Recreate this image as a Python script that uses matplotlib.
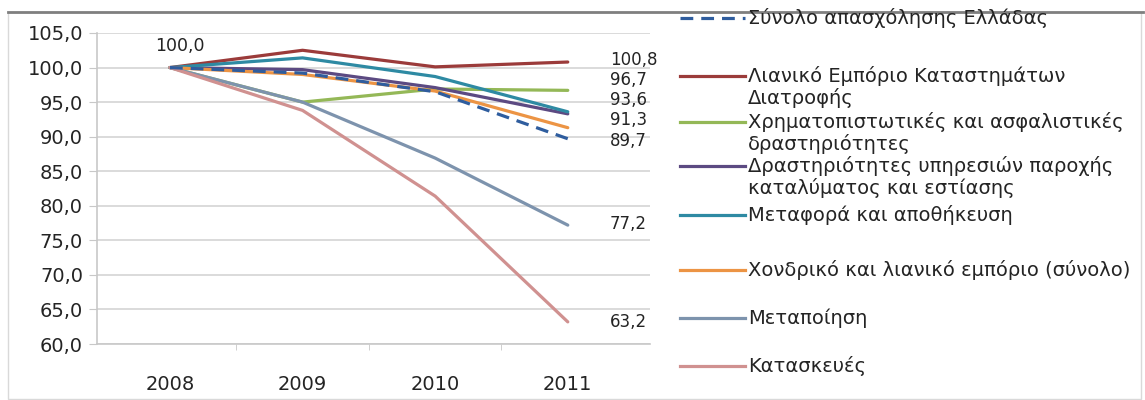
import matplotlib
matplotlib.use('Agg')
import matplotlib.pyplot as plt
from matplotlib.lines import Line2D
from matplotlib.patches import Rectangle

plt.rcParams['font.family'] = ['DejaVu Sans']

years = ['2008', '2009', '2010', '2011']

# employment index, 2008 = 100
total = [100.0, 99.2, 96.5, 89.7]
retail_food = [100.0, 102.5, 100.1, 100.8]
finance = [100.0, 95.0, 96.9, 96.7]
accommodation = [100.0, 99.7, 97.1, 93.3]
transport = [100.0, 101.4, 98.7, 93.6]
trade_total = [100.0, 99.0, 96.6, 91.3]
manufacturing = [100.0, 95.0, 86.9, 77.2]
construction = [100.0, 93.8, 81.4, 63.2]

names = ['Σύνολο απασχόλησης Ελλάδας',
         'Λιανικό Εμπόριο Καταστημάτων\nΔιατροφής',
         'Χρηματοπιστωτικές και ασφαλιστικές\nδραστηριότητες',
         'Δραστηριότητες υπηρεσιών παροχής\nκαταλύματος και εστίασης',
         'Μεταφορά και αποθήκευση',
         'Χονδρικό και λιανικό εμπόριο (σύνολο)',
         'Μεταποίηση',
         'Κατασκευές']

series = [total, retail_food, finance, accommodation, transport,
          trade_total, manufacturing, construction]
colors = ['#2f5d9e', '#9b3b3a', '#94b857', '#5c4a82', '#2e8aa3',
          '#ec9444', '#7d93ad', '#d09190']
styles = ['--', '-', '-', '-', '-', '-', '-', '-']
# vertical nudge (pixels) of the end labels so they don't collide
end_shift = [-2, 2, 10, None, 12, 8, 1, 0]

W, H = 1145, 400
fig = plt.figure(figsize=(W / 100, H / 100), dpi=100)

# outer frame of the chart
fig.patches.append(Rectangle((8 / W, 1 / H), (1141 - 8) / W, (388 - 1) / H,
                             transform=fig.transFigure, fill=False,
                             edgecolor='#d9d9d9', lw=1))
fig.lines.append(Line2D([8 / W, 1143 / W], [1 - 12 / H, 1 - 12 / H],
                        transform=fig.transFigure, color='#7f7f7f', lw=2))

ax = fig.add_axes([97 / W, 1 - 344 / H, (650 - 97) / W, (344 - 33) / H])
x = list(range(len(years)))
fs = 14
txt = '#242424'

order = [1, 2, 3, 4, 5, 6, 7, 0]
for i in order:
    ax.plot(x, series[i], linestyle=styles[i], color=colors[i], lw=2.3,
            zorder=3 + (1 if i == 0 else 0), solid_capstyle='round',
            dashes=(4, 2.5) if styles[i] == '--' else (None, None))
    if end_shift[i] is not None:
        v = series[i][-1]
        ax.annotate(f'{v:.1f}'.replace('.', ','), (x[-1], v),
                    xytext=(42, end_shift[i]), textcoords='offset pixels',
                    ha='left', va='center', fontsize=12, color=txt)

ax.annotate(f'{total[0]:.1f}'.replace('.', ','), (x[0], total[0]),
            xytext=(10, 22), textcoords='offset pixels', ha='center',
            va='center', fontsize=12.5, color=txt)

ax.set_xlim(-0.55, 3.62)
ax.set_ylim(60, 105)
ax.set_yticks(range(60, 106, 5))
ax.set_yticklabels([f'{t:.1f}'.replace('.', ',') for t in range(60, 106, 5)])
ax.set_xticks(x)
ax.set_xticklabels(years)
ax.set_xticks([0.5, 1.5, 2.5], minor=True)
ax.tick_params(axis='x', which='major', length=0, pad=22, labelsize=fs,
               labelcolor=txt)
ax.tick_params(axis='x', which='minor', length=4, color='#c8c8c8')
ax.tick_params(axis='y', length=6, pad=4, color='#c8c8c8', labelsize=fs,
               labelcolor=txt)
ax.grid(axis='y', color='#d4d4d4', lw=1.2)
ax.set_axisbelow(True)
for s in ['top', 'right']:
    ax.spines[s].set_visible(False)
for s in ['left', 'bottom']:
    ax.spines[s].set_color('#c8c8c8')
    ax.spines[s].set_linewidth(1.2)

# legend drawn by hand: handle at first text line
leg_y = [18, 76, 122, 166, 215, 270, 318, 366]
line_gap = 22
for i in range(len(names)):
    yy = 1 - leg_y[i] / H
    kw = dict(dashes=(4, 2.5)) if styles[i] == '--' else {}
    fig.lines.append(Line2D([680 / W, 745 / W], [yy, yy],
                            transform=fig.transFigure, color=colors[i],
                            lw=2.3, **kw))
    for k, part in enumerate(names[i].split('\n')):
        fig.text(748 / W, 1 - (leg_y[i] + k * line_gap) / H, part,
                 ha='left', va='center', fontsize=fs, color=txt)

fig.savefig('out.png', dpi=100)
